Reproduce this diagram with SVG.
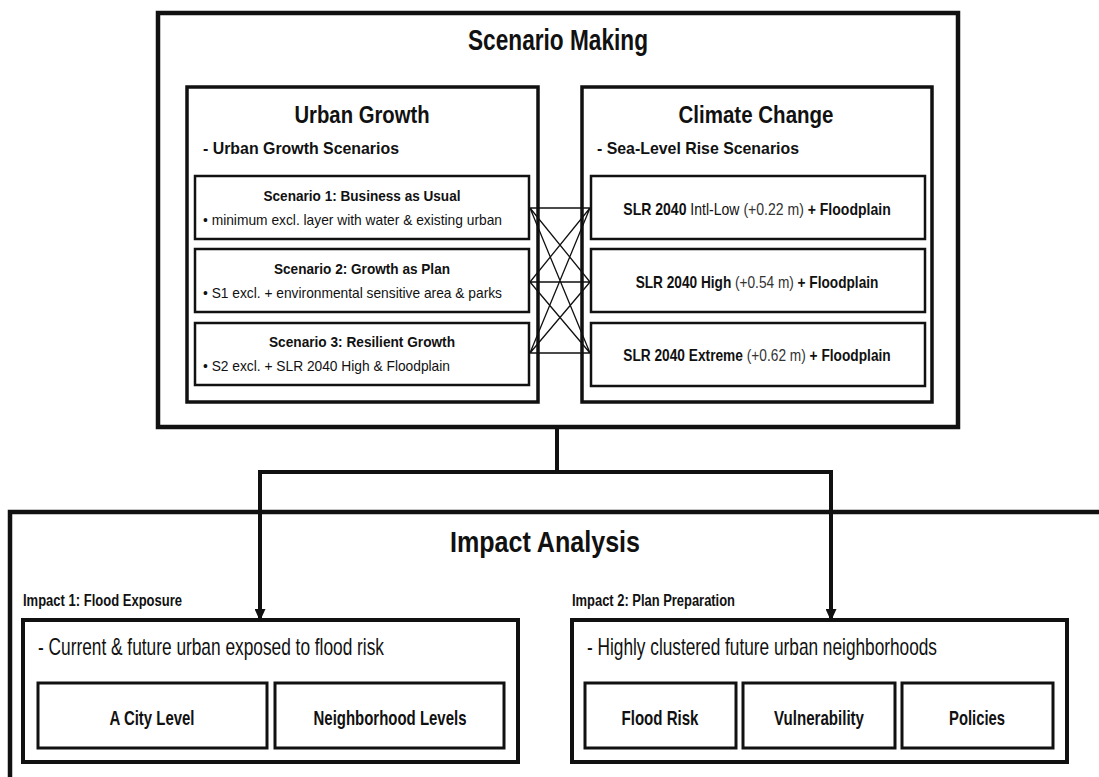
<svg xmlns="http://www.w3.org/2000/svg" width="1099" height="777" viewBox="0 0 1099 777">
<style>
text{font-family:"Liberation Sans",Arial,sans-serif;fill:#111}
.b{font-weight:bold}
.t1{font-size:30px;font-weight:bold}
.t2{font-size:24px;font-weight:bold}
.t3{font-size:17px;font-weight:bold}
.st{font-size:15px;font-weight:bold}
.bu{font-size:15px}
.slr{font-size:17px}
.g{fill:#333;font-weight:normal}
.lab{font-size:16px;font-weight:bold}
.desc{font-size:24px}
.sub{font-size:21px;font-weight:bold}
.box{fill:#fff;stroke:#111}
.thin{fill:none;stroke:#111;stroke-width:1.3}
.con{fill:none;stroke:#111;stroke-width:4}
</style>
<defs>
<marker id="ah" markerWidth="12" markerHeight="11" refX="11" refY="5.5" orient="auto" markerUnits="userSpaceOnUse" viewBox="0 0 12 11">
<path d="M0,0 L12,5.5 L0,11 Z" fill="#111"/>
</marker>
</defs>
<rect width="1099" height="777" fill="#fff"/>
<g id="scenario-making">
<rect class="box" x="158" y="13" width="800" height="414" stroke-width="4.5"/>
<text class="t1" x="558" y="50" text-anchor="middle" textLength="180" lengthAdjust="spacingAndGlyphs">Scenario Making</text>
</g>
<g id="urban-growth">
<rect class="box" x="187" y="87" width="351" height="315" stroke-width="3.5"/>
<text class="t2" x="362" y="123" text-anchor="middle" textLength="135" lengthAdjust="spacingAndGlyphs">Urban Growth</text>
<text class="t3" x="203" y="154" textLength="196" lengthAdjust="spacingAndGlyphs">- Urban Growth Scenarios</text>
</g>
<g id="scenario1">
<rect class="box" x="195" y="176" width="334" height="63" stroke-width="2.5"/>
<text class="st" x="362" y="201" text-anchor="middle" textLength="197" lengthAdjust="spacingAndGlyphs">Scenario 1: Business as Usual</text>
<text class="bu" x="203" y="225" textLength="299" lengthAdjust="spacingAndGlyphs">• minimum excl. layer with water &amp; existing urban</text>
</g>
<g id="scenario2">
<rect class="box" x="195" y="249" width="334" height="63" stroke-width="2.5"/>
<text class="st" x="362" y="274" text-anchor="middle" textLength="176" lengthAdjust="spacingAndGlyphs">Scenario 2: Growth as Plan</text>
<text class="bu" x="203" y="298" textLength="299" lengthAdjust="spacingAndGlyphs">• S1 excl. + environmental sensitive area &amp; parks</text>
</g>
<g id="scenario3">
<rect class="box" x="195" y="323" width="334" height="62" stroke-width="2.5"/>
<text class="st" x="362" y="347" text-anchor="middle" textLength="186" lengthAdjust="spacingAndGlyphs">Scenario 3: Resilient Growth</text>
<text class="bu" x="203" y="371" textLength="247" lengthAdjust="spacingAndGlyphs">• S2 excl. + SLR 2040 High &amp; Floodplain</text>
</g>
<g id="climate-change">
<rect class="box" x="582" y="87" width="350" height="315" stroke-width="3.5"/>
<text class="t2" x="756" y="123" text-anchor="middle" textLength="155" lengthAdjust="spacingAndGlyphs">Climate Change</text>
<text class="t3" x="597" y="154" textLength="202" lengthAdjust="spacingAndGlyphs">- Sea-Level Rise Scenarios</text>
</g>
<g id="slr1">
<rect class="box" x="591" y="176" width="334" height="63" stroke-width="2.5"/>
<text class="slr" x="0" y="0" text-anchor="middle" transform="translate(757,215) scale(0.826,1)"><tspan class="b">SLR 2040</tspan> Intl-Low <tspan class="g">(+0.22 m)</tspan> <tspan class="b">+ Floodplain</tspan></text>
</g>
<g id="slr2">
<rect class="box" x="591" y="249" width="334" height="63" stroke-width="2.5"/>
<text class="slr" x="0" y="0" text-anchor="middle" transform="translate(757,288) scale(0.804,1)"><tspan class="b">SLR 2040 High</tspan> <tspan class="g">(+0.54 m)</tspan> <tspan class="b">+ Floodplain</tspan></text>
</g>
<g id="slr3">
<rect class="box" x="591" y="323" width="334" height="63" stroke-width="2.5"/>
<text class="slr" x="0" y="0" text-anchor="middle" transform="translate(757,361) scale(0.807,1)"><tspan class="b">SLR 2040 Extreme</tspan> <tspan class="g">(+0.62 m)</tspan> <tspan class="b">+ Floodplain</tspan></text>
</g>
<g id="impact-analysis">
<rect class="box" x="10" y="512" width="1100" height="300" stroke-width="4.5"/>
<text class="t1" x="545" y="552" text-anchor="middle" textLength="190" lengthAdjust="spacingAndGlyphs">Impact Analysis</text>
</g>
<g id="impact1">
<text class="lab" x="23" y="606" textLength="159" lengthAdjust="spacingAndGlyphs">Impact 1: Flood Exposure</text>
<rect class="box" x="23" y="620" width="495" height="142" stroke-width="4"/>
<text class="desc" x="38" y="655" textLength="346" lengthAdjust="spacingAndGlyphs">- Current &amp; future urban exposed to flood risk</text>
</g>
<g id="city-level">
<rect class="box" x="38" y="683" width="229" height="65" stroke-width="3"/>
<text class="sub" x="152" y="725" text-anchor="middle" textLength="85" lengthAdjust="spacingAndGlyphs">A City Level</text>
</g>
<g id="neighborhood-levels">
<rect class="box" x="275" y="683" width="229" height="65" stroke-width="3"/>
<text class="sub" x="390" y="725" text-anchor="middle" textLength="153" lengthAdjust="spacingAndGlyphs">Neighborhood Levels</text>
</g>
<g id="impact2">
<text class="lab" x="572" y="606" textLength="163" lengthAdjust="spacingAndGlyphs">Impact 2: Plan Preparation</text>
<rect class="box" x="572" y="620" width="495" height="142" stroke-width="4"/>
<text class="desc" x="587" y="655" textLength="350" lengthAdjust="spacingAndGlyphs">- Highly clustered future urban neighborhoods</text>
</g>
<g id="flood-risk">
<rect class="box" x="585" y="683" width="151" height="65" stroke-width="3"/>
<text class="sub" x="660" y="725" text-anchor="middle" textLength="77" lengthAdjust="spacingAndGlyphs">Flood Risk</text>
</g>
<g id="vulnerability">
<rect class="box" x="743" y="683" width="152" height="65" stroke-width="3"/>
<text class="sub" x="819" y="725" text-anchor="middle" textLength="90" lengthAdjust="spacingAndGlyphs">Vulnerability</text>
</g>
<g id="policies">
<rect class="box" x="902" y="683" width="151" height="65" stroke-width="3"/>
<text class="sub" x="977" y="725" text-anchor="middle" textLength="56" lengthAdjust="spacingAndGlyphs">Policies</text>
</g>
<g id="connectors">
<path class="thin" d="M530,208 L590,208 M530,208 L590,282 M530,208 L590,353 M530,282 L590,208 M530,282 L590,282 M530,282 L590,353 M530,353 L590,208 M530,353 L590,282 M530,353 L590,353"/>
<path class="con" d="M557,427 L557,472 M258,472 L833,472"/>
<path class="con" d="M260,470 L260,620" marker-end="url(#ah)"/>
<path class="con" d="M831,470 L831,620" marker-end="url(#ah)"/>
</g>
</svg>
